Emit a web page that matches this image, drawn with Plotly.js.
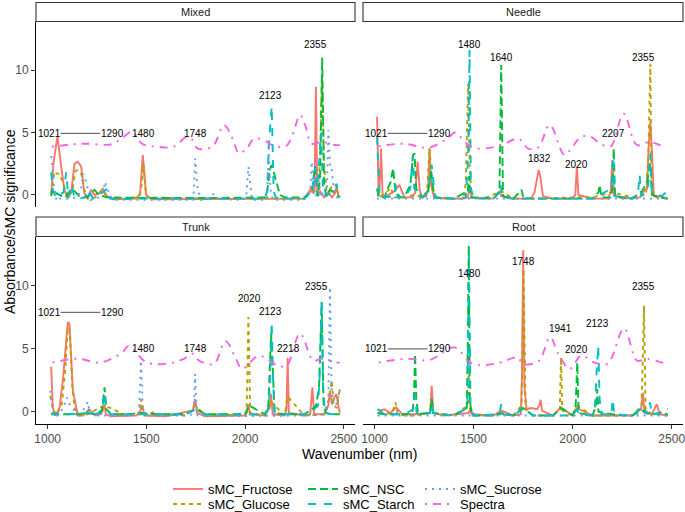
<!DOCTYPE html>
<html><head><meta charset="utf-8">
<script src="https://cdn.plot.ly/plotly-3.0.1.min.js"></script>
<style>html,body{margin:0;padding:0;background:#fff}#chart{width:685px;height:512px}</style>
</head><body><div id="chart"></div>
<script>
// ---------- categories ----------
const facetNames = ['Mixed','Needle','Trunk','Root'];
const seriesNames = ['sMC_Fructose','sMC_Glucose','sMC_NSC','sMC_Starch','sMC_Sucrose','Spectra'];
const xTickVals = [1000,1500,2000,2500];
const yTickVals = [0,5,10];

// ---------- Mixed ----------
const mix_fru_x = [1018,1030,1050,1060,1068,1085,1102,1120,1136,1153,1170,1186,1203,1220,1237,1260,1279,1300,1330,1450,1468,1482,1499,1527,1800,2000,2300,2325,2338,2346,2352,2359,2366,2380,2400,2422,2440,2455,2464,2472,2480];
const mix_fru_y = [0,2.6,4.7,3.6,2.3,0.4,-0.27,0.3,2.5,2.66,2.26,0.13,-0.2,0.4,0,0.1,0.5,-0.1,-0.35,-0.3,0.1,3.2,0,-0.35,-0.35,-0.35,-0.3,0.3,0.66,0.1,0.3,8.66,-0.1,0.3,-0.2,0.2,-0.2,0.1,0.7,0,-0.2];
const mix_glu_x = [1018,1034,1045,1060,1072,1085,1102,1125,1140,1153,1170,1186,1203,1240,1279,1300,1350,1465,1478,1485,1495,1505,1800,2100,2300,2350,2370,2380,2390,2400,2415,2439,2447,2460,2480];
const mix_glu_y = [0.1,1.86,1.7,1.7,1.2,0.5,-0.2,0.3,1.9,2.0,1.7,0.4,-0.3,-0.2,0.4,-0.2,-0.3,-0.2,1.0,2.5,0.5,-0.2,-0.3,-0.3,-0.3,0.5,0.2,3.0,9.6,2.5,-0.1,0.66,0.2,0.5,-0.2];
const mix_nsc_x = [1018,1026,1045,1060,1090,1116,1136,1160,1200,1237,1260,1300,1500,1800,2000,2100,2110,2118,2127,2135,2145,2160,2177,2200,2300,2340,2354,2365,2371,2380,2391,2400,2411,2430,2450,2480];
const mix_nsc_y = [-0.1,0.5,0.1,0,-0.2,0.4,0.3,-0.1,-0.2,0.4,0,-0.2,-0.25,-0.25,-0.25,-0.2,0.0,0.9,2.1,2.4,1.8,1.0,0.0,-0.2,-0.2,0.3,2.3,0.3,-0.1,1.5,11.0,1.0,-0.1,0.4,0.2,-0.2];
const mix_sta_x = [1018,1025,1040,1060,1080,1094,1105,1122,1135,1160,1190,1207,1230,1283,1300,1316,1350,1500,1800,2000,2100,2112,2120,2135,2145,2155,2200,2300,2340,2355,2362,2375,2385,2395,2410,2440,2464,2472,2480];
const mix_sta_y = [1.8,0.5,-0.2,0,0.2,1.8,-0.2,0.8,-0.2,-0.3,-0.2,0.4,-0.3,0.26,0.5,-0.3,-0.35,-0.3,-0.3,-0.3,-0.3,0.3,3.9,7.1,0.3,-0.2,-0.3,-0.3,0.3,2.2,-0.1,2.5,5.0,0.2,-0.1,0.3,0.9,-0.1,-0.2];
const mix_suc_x = [1016,1020,1030,1045,1060,1100,1150,1170,1181,1195,1217,1250,1280,1291,1300,1330,1500,1600,1700,1738,1747,1760,1777,1830,1840,1850,1950,2005,2017,2025,2035,2100,2112,2120,2128,2140,2200,2300,2330,2338,2348,2370,2385,2400,2415,2422,2432,2439,2450,2465,2480];
const mix_suc_y = [3.1,3.0,1.0,-0.5,-0.3,-0.3,-0.2,0.5,1.7,1.0,-0.4,-0.3,0.2,1.06,0.5,-0.4,-0.4,-0.4,-0.4,-0.4,2.93,0.5,-0.4,-0.2,0.1,-0.3,-0.4,-0.3,2.26,1.0,-0.4,-0.4,-0.3,4.0,0.5,-0.4,-0.4,-0.4,0.3,2.66,0.2,1.5,-0.2,0.5,0.3,5.2,2.0,2.0,0.3,-0.2,-0.3];
const mix_spe_x = [1021,1117,1201,1319,1369,1428,1478,1554,1638,1705,1733,1758,1834,1893,1926,1951,1968,2010,2044,2094,2136,2203,2237,2279,2304,2338,2388,2455,2480];
const mix_spe_y = [3.86,4.04,4.1,4.04,4.45,5.05,4.1,3.86,3.86,4.65,4.4,3.73,3.86,5.59,4.9,3.86,3.33,3.73,4.5,4.4,4.0,3.86,4.65,6.4,5.6,4.1,4.25,4.0,4.0];

// ---------- Needle ----------
const ndl_fru_x = [1012,1016,1020,1026,1032,1040,1050,1100,1125,1150,1190,1205,1217,1228,1240,1260,1270,1277,1285,1300,1350,1450,1470,1480,1490,1600,1630,1640,1700,1790,1807,1820,1828,1836,1850,1900,2000,2013,2021,2029,2100,2180,2192,2200,2208,2250,2340,2363,2375,2384,2392,2400,2410,2440,2480];
const ndl_fru_y = [6.26,3.0,-0.1,1.0,3.7,-0.1,-0.2,0.3,0.8,-0.2,-0.2,0.2,2.66,0.3,-0.2,-0.1,0.5,3.73,0.8,-0.2,-0.3,-0.3,-0.2,0.6,-0.2,-0.3,0.26,-0.1,-0.3,-0.3,0.2,1.3,2.0,1.5,-0.1,-0.3,-0.3,0,2.26,0,-0.3,-0.3,0.3,2.8,0,-0.3,-0.2,0.4,0.5,4.0,5.86,3.5,-0.1,-0.1,-0.3];
const ndl_glu_x = [1012,1030,1060,1080,1100,1150,1200,1240,1265,1277,1290,1310,1400,1450,1460,1466,1472,1480,1490,1550,1640,1700,1800,2000,2100,2200,2300,2370,2382,2392,2398,2410,2440,2480];
const ndl_glu_y = [0.5,-0.1,0.2,0.6,-0.2,-0.2,0,-0.2,0.3,3.73,0.5,-0.2,-0.3,-0.3,1.0,5.0,8.9,2.0,-0.2,-0.3,0.3,-0.3,-0.3,-0.2,-0.2,0.2,-0.2,0,3.0,10.5,1.0,-0.2,-0.2,-0.3];
const ndl_nsc_x = [1012,1020,1050,1065,1080,1093,1105,1130,1150,1180,1194,1201,1210,1240,1270,1285,1295,1310,1400,1470,1477,1485,1600,1630,1639,1648,1700,1742,1750,1800,1900,2000,2100,2130,2136,2145,2190,2200,2207,2214,2300,2350,2375,2392,2400,2440,2480];
const ndl_nsc_y = [0.5,-0.2,-0.2,0.5,1.0,2.13,0.3,-0.2,-0.2,0.8,3.2,3.33,0.5,-0.2,0.2,2.0,0.5,-0.2,-0.3,0.3,1.5,-0.2,-0.3,0.3,10.4,-0.1,-0.3,0.4,-0.2,-0.3,-0.3,-0.3,-0.3,0.2,0.8,-0.2,-0.2,0.5,3.73,-0.1,-0.3,0.3,1.0,2.5,0,-0.2,-0.3];
const ndl_sta_x = [1012,1018,1025,1040,1100,1108,1116,1150,1180,1192,1200,1240,1270,1288,1295,1305,1320,1400,1460,1472,1479,1486,1500,1600,1630,1635,1645,1700,1800,1900,2100,2195,2204,2212,2300,2330,2338,2346,2380,2392,2400,2450,2470,2480];
const ndl_sta_y = [4.66,2.0,-0.2,-0.2,-0.1,0.8,-0.2,-0.2,0.5,3.06,0.5,-0.2,0.3,2.4,1.5,-0.2,-0.3,-0.3,-0.2,3.0,11.6,0.5,-0.3,-0.3,0.2,0.8,-0.2,-0.3,-0.3,-0.3,-0.3,0.5,3.06,-0.1,-0.3,0.2,1.6,-0.1,0.5,3.3,0.2,-0.1,0.2,-0.3];
const ndl_suc_x = [1012,1100,1300,1500,1700,1900,2100,2300,2480];
const ndl_suc_y = [-0.3,-0.3,-0.35,-0.35,-0.35,-0.35,-0.35,-0.3,-0.3];
const ndl_spe_x = [1020,1145,1277,1377,1405,1493,1626,1726,1776,1826,1884,1958,1992,2041,2091,2141,2191,2257,2324,2390,2440,2470];
const ndl_spe_y = [3.9,4.1,3.8,4.65,5.0,3.8,3.9,4.5,3.7,3.8,5.6,3.2,3.7,4.65,4.65,4.1,3.86,6.5,4.0,4.25,4.0,3.95];

// ---------- Trunk ----------
const trk_fru_x = [1018,1026,1039,1060,1077,1095,1102,1110,1120,1128,1153,1180,1210,1240,1270,1282,1288,1295,1320,1450,1470,1480,1490,1600,1735,1747,1757,1800,2000,2010,2017,2024,2100,2125,2132,2140,2200,2210,2216,2222,2300,2330,2341,2350,2400,2422,2430,2440,2452,2463,2472,2480];
const trk_fru_y = [3.57,0.34,-0.3,0.3,2.46,6.0,7.1,7.0,4.0,1.67,-0.3,-0.3,0.2,-0.3,-0.2,0.2,0.6,-0.2,-0.35,-0.3,0.1,0.5,-0.3,-0.35,0.1,1.0,-0.1,-0.35,-0.3,0,0.6,-0.2,-0.3,0.3,1.4,-0.2,-0.3,0.2,4.26,-0.1,-0.3,-0.2,1.93,-0.2,-0.2,0.5,1.67,0.6,1.13,1.4,0.5,-0.1];
const trk_glu_x = [1013,1026,1045,1072,1090,1102,1112,1125,1136,1160,1200,1288,1400,1465,1473,1481,1500,1541,1560,1700,1748,1800,1900,2008,2017,2026,2100,2132,2200,2216,2300,2400,2425,2439,2450,2465,2481];
const trk_glu_y = [1.27,0.3,-0.3,0.6,3.5,6.7,6.5,2.0,0.3,-0.3,-0.2,0.5,-0.3,-0.2,1.0,-0.1,-0.3,0,-0.2,-0.3,0.5,-0.3,-0.3,-0.1,7.5,-0.1,-0.3,0.8,-0.3,1.2,-0.3,-0.2,1.0,2.46,0.5,0.3,1.93];
const trk_nsc_x = [1018,1040,1080,1150,1200,1240,1275,1288,1298,1320,1400,1480,1550,1700,1750,1800,1900,2000,2020,2100,2118,2125,2132,2140,2150,2200,2300,2340,2360,2375,2388,2398,2410,2440,2480];
const trk_nsc_y = [-0.2,-0.2,-0.2,-0.2,-0.1,-0.2,0.1,1.93,0.2,-0.2,-0.2,-0.1,-0.2,-0.2,0.2,-0.2,-0.2,-0.2,0.5,-0.2,0.5,4.0,6.2,3.5,-0.1,-0.2,-0.2,0.2,0.5,2.0,8.67,0.5,-0.1,-0.2,-0.2];
const trk_sta_x = [1018,1030,1100,1200,1212,1225,1270,1280,1288,1296,1320,1500,1700,1750,1800,2000,2100,2120,2128,2135,2142,2150,2200,2300,2350,2370,2380,2388,2395,2405,2440,2480];
const trk_sta_y = [-0.1,-0.2,-0.2,-0.1,0.2,-0.2,-0.1,0.5,1.5,0.3,-0.2,-0.2,-0.2,0.2,-0.2,-0.2,-0.2,0.3,3.0,7.1,2.5,-0.1,-0.2,-0.2,0.2,0.5,3.5,8.8,2.0,-0.1,-0.2,-0.2];
const trk_suc_x = [1013,1020,1030,1050,1080,1097,1110,1150,1190,1203,1210,1240,1300,1400,1460,1465,1473,1481,1490,1600,1700,1740,1747,1752,1760,1900,2000,2100,2200,2300,2400,2415,2422,2430,2438,2445,2460,2470,2484];
const trk_suc_y = [1.67,1.0,-0.3,-0.3,0.3,1.13,0.6,-0.2,0.3,0.8,0.2,-0.3,-0.3,-0.3,-0.2,1.0,4.05,0.5,-0.3,-0.3,-0.3,-0.2,3.0,1.0,-0.3,-0.35,-0.35,-0.35,-0.35,-0.3,-0.2,0.2,1.0,9.87,2.0,0.5,0.5,1.0,2.06];
const trk_spe_x = [1025,1151,1268,1378,1410,1503,1621,1690,1738,1767,1842,1901,1951,1985,2069,2128,2169,2211,2279,2346,2388,2463,2480];
const trk_spe_y = [3.9,4.2,3.9,4.7,5.2,3.9,3.85,4.2,4.6,4.05,3.8,5.6,4.3,3.4,4.45,4.0,3.65,3.65,6.2,4.05,4.2,3.9,3.9];

// ---------- Root ----------
const root_fru_x = [1015,1030,1049,1080,1108,1140,1200,1280,1288,1296,1350,1475,1482,1490,1600,1640,1700,1738,1744,1750,1756,1767,1790,1820,1832,1838,1845,1900,1940,2000,2020,2100,2200,2300,2345,2355,2362,2400,2424,2440,2480];
const root_fru_y = [0.2,0.1,0.2,-0.1,0.34,-0.2,-0.2,-0.1,2.06,-0.1,-0.3,-0.1,0.3,-0.2,-0.3,0.1,-0.3,-0.2,3.0,12.8,2.0,0.2,0.3,0.2,0.5,0.95,0.1,-0.3,0.34,-0.3,0.3,-0.3,-0.3,-0.3,0.2,1.5,-0.1,-0.2,0.6,-0.2,-0.3];
const root_glu_x = [1015,1060,1095,1105,1115,1150,1200,1280,1288,1296,1400,1470,1475,1480,1500,1640,1700,1742,1752,1762,1800,1900,1935,1941,1947,2000,2020,2100,2200,2300,2348,2360,2368,2400,2440,2480];
const root_glu_y = [-0.1,-0.2,0.2,0.74,-0.1,-0.3,-0.3,-0.1,1.0,-0.1,-0.3,0.5,3.0,0.5,-0.3,-0.2,-0.3,0.5,11.3,0.2,-0.3,-0.3,0.2,4.3,0.1,-0.3,0.5,-0.3,-0.3,-0.3,0.5,8.4,0.2,-0.2,-0.2,-0.3];
const root_nsc_x = [1015,1050,1100,1150,1190,1198,1204,1210,1220,1280,1288,1296,1400,1465,1470,1475,1480,1490,1600,1640,1700,1748,1800,1900,1941,2000,2015,2023,2030,2100,2118,2124,2130,2200,2300,2350,2400,2440,2480];
const root_nsc_y = [-0.1,-0.2,-0.2,-0.2,-0.1,1.0,4.58,1.0,-0.2,-0.1,1.0,-0.1,-0.3,0.3,5.0,13.2,1.0,-0.3,-0.3,-0.1,-0.3,0.3,-0.3,-0.3,0.3,-0.3,0.5,3.9,-0.1,-0.3,0.5,1.8,0,-0.2,-0.3,0.1,-0.2,-0.1,-0.2];
const root_sta_x = [1015,1050,1100,1150,1195,1204,1212,1280,1288,1296,1400,1468,1476,1484,1500,1630,1639,1648,1700,1745,1755,1800,1900,2000,2022,2030,2100,2112,2120,2129,2136,2145,2195,2202,2210,2300,2340,2350,2380,2390,2400,2440,2474,2480];
const root_sta_y = [0.2,-0.2,-0.2,-0.2,0.2,1.3,-0.1,-0.1,0.6,-0.1,-0.3,0.3,12.4,0.5,-0.3,-0.2,0.6,-0.2,-0.3,0.2,0.3,-0.3,-0.3,-0.3,0.2,-0.2,-0.3,0.3,3.0,5.24,1.0,-0.2,-0.2,1.0,-0.2,-0.3,0.2,0.5,-0.2,0.74,-0.2,-0.1,0.34,0.2];
const root_suc_x = [1015,1100,1300,1500,1700,1900,2100,2300,2480];
const root_suc_y = [-0.3,-0.3,-0.35,-0.35,-0.35,-0.35,-0.35,-0.3,-0.3];
const root_spe_x = [1020,1161,1277,1402,1493,1609,1726,1744,1827,1886,1927,1985,2043,2110,2176,2259,2325,2375,2450,2470];
const root_spe_y = [3.9,4.2,4.1,5.1,3.8,3.8,4.3,3.8,4.0,5.9,4.6,3.4,4.45,3.9,3.8,6.6,4.05,4.2,3.9,3.85];

// ---------- peak labels ----------
const mix_lab_text = ['1021','1290','1480','1748','2123','2355'];
const mix_lab_x = [1009,1328,1485,1750,2127,2359];
const mix_lab_y = [4.93,4.93,4.93,4.93,7.94,12.05];
const ndl_lab_text = ['1021','1290','1480','1640','1832','2020','2207','2355'];
const ndl_lab_x = [1009,1325,1480,1640,1834,2020,2208,2357];
const ndl_lab_y = [4.93,4.93,12.05,11.0,2.93,2.45,4.93,11.0];
const trk_lab_text = ['1021','1290','1480','1748','2020','2123','2218','2355'];
const trk_lab_x = [1009,1328,1485,1750,2022,2127,2219,2363];
const trk_lab_y = [7.88,7.88,4.98,4.98,8.94,7.94,4.98,9.92];
const root_lab_text = ['1021','1290','1480','1748','1941','2020','2123','2355'];
const root_lab_x = [1009,1325,1480,1750,1940,2020,2124,2357];
const root_lab_y = [4.98,4.98,10.93,11.93,6.56,4.92,6.96,9.92];
const seg_x = [1066,1266];
const seg_y = [4.93,4.93,7.88,4.98];

// ---------- build ----------
const W = 685, H = 512;
const fx = p => p / W, fy = p => 1 - p / H;
const FONT = 'Liberation Sans, Arial, Helvetica, sans-serif';
const colors = ['#F8766D','#B79F00','#00BA38','#00BFC4','#619CFF','#F564E3'];
const dashes = ['solid','4px,4px','8px,4px','8px,8px','2px,5px','2px,6px,8px,6px'];

const data = {
  Mixed: [[mix_fru_x,mix_fru_y],[mix_glu_x,mix_glu_y],[mix_nsc_x,mix_nsc_y],[mix_sta_x,mix_sta_y],[mix_suc_x,mix_suc_y],[mix_spe_x,mix_spe_y]],
  Needle: [[ndl_fru_x,ndl_fru_y],[ndl_glu_x,ndl_glu_y],[ndl_nsc_x,ndl_nsc_y],[ndl_sta_x,ndl_sta_y],[ndl_suc_x,ndl_suc_y],[ndl_spe_x,ndl_spe_y]],
  Trunk: [[trk_fru_x,trk_fru_y],[trk_glu_x,trk_glu_y],[trk_nsc_x,trk_nsc_y],[trk_sta_x,trk_sta_y],[trk_suc_x,trk_suc_y],[trk_spe_x,trk_spe_y]],
  Root: [[root_fru_x,root_fru_y],[root_glu_x,root_glu_y],[root_nsc_x,root_nsc_y],[root_sta_x,root_sta_y],[root_suc_x,root_suc_y],[root_spe_x,root_spe_y]]
};
const labels = {
  Mixed: [mix_lab_text, mix_lab_x, mix_lab_y],
  Needle: [ndl_lab_text, ndl_lab_x, ndl_lab_y],
  Trunk: [trk_lab_text, trk_lab_x, trk_lab_y],
  Root: [root_lab_text, root_lab_x, root_lab_y]
};

// panel geometry (pixels)
const colPx = [[36,355],[363,683]];
const rowPx = [[22,207],[237,424]];
const stripPx = [[2.5,21.5],[217,236.5]];
const legendIds = ['legend','legend2','legend3','legend4','legend5','legend6'];
// legend positions: ggplot fills columns first
const legCol = [0,0,1,1,2,2], legRow = [0,1,0,1,0,1];
const legColPx = [168,303,420], legRowPx = [489,504];

const traces = [];
const annotations = [];
const shapes = [];
const layout = {
  width: W, height: H,
  margin: {l:0, r:0, t:0, b:0, autoexpand:false},
  paper_bgcolor: '#fff', plot_bgcolor: '#fff',
  font: {family: FONT, color: '#000'},
  hovermode: false,
  showlegend: true
};

facetNames.forEach((fname, fi) => {
  const c = fi % 2, r = Math.floor(fi / 2);
  const sfx = fi === 0 ? '' : String(fi + 1);
  const xa = 'x' + sfx, ya = 'y' + sfx;
  const isLeft = c === 0, isBottom = r === 1;
  layout['xaxis' + sfx] = {
    domain: [fx(colPx[c][0]), fx(colPx[c][1])], anchor: ya,
    range: [941, 2557], showgrid: false, zeroline: false, fixedrange: true,
    showline: isBottom, linecolor: '#000', linewidth: 1,
    ticks: isBottom ? 'outside' : '', ticklen: 4, tickwidth: 1, tickcolor: '#333',
    showticklabels: isBottom, tickvals: xTickVals, ticktext: xTickVals.map(String),
    ticklabeloverflow: 'allow',
    tickfont: {size: 12, color: '#4d4d4d', family: FONT}
  };
  layout['yaxis' + sfx] = {
    domain: [fy(rowPx[r][1]), fy(rowPx[r][0])], anchor: xa,
    range: [-0.97, 13.85], showgrid: false, zeroline: false, fixedrange: true,
    showline: isLeft, linecolor: '#000', linewidth: 1,
    ticks: isLeft ? 'outside' : '', ticklen: 4, tickwidth: 1, tickcolor: '#333',
    showticklabels: isLeft, tickvals: yTickVals, ticktext: yTickVals.map(String),
    ticklabeloverflow: 'allow',
    tickfont: {size: 12, color: '#4d4d4d', family: FONT}
  };
  // series lines
  seriesNames.forEach((sname, si) => {
    const [xs, ys] = data[fname][si];
    traces.push({
      type: 'scatter', mode: 'lines', name: sname, x: xs, y: ys,
      xaxis: xa, yaxis: ya,
      line: {color: colors[si], width: 1.9, dash: dashes[si], shape: si === 5 ? 'spline' : 'linear', smoothing: 1},
      showlegend: fi === 0, legend: legendIds[si], hoverinfo: 'skip'
    });
  });
  // strip
  shapes.push({type:'rect', xref:'paper', yref:'paper',
    x0: fx(colPx[c][0]), x1: fx(colPx[c][1]), y0: fy(stripPx[r][1]), y1: fy(stripPx[r][0]),
    fillcolor:'#fff', line:{color:'#333', width:1.1}, layer:'above'});
  annotations.push({xref:'paper', yref:'paper', x: fx((colPx[c][0]+colPx[c][1])/2), y: fy((stripPx[r][0]+stripPx[r][1])/2),
    text: fname, showarrow:false, xanchor:'center', yanchor:'middle', font:{size:11, color:'#1a1a1a', family: FONT}});
  // peak labels
  const [lt, lx, ly] = labels[fname];
  lt.forEach((t, k) => annotations.push({xref: xa, yref: ya, x: lx[k], y: ly[k], text: t, showarrow:false,
    xanchor:'center', yanchor:'middle', font:{size:10, color:'#000', family: FONT}}));
  shapes.push({type:'line', xref: xa, yref: ya, x0: seg_x[0], x1: seg_x[1], y0: seg_y[fi], y1: seg_y[fi],
    line:{color:'#222', width:0.8}});
});

// axis titles
annotations.push({xref:'paper', yref:'paper', x: fx(359.5), y: fy(454), text:'Wavenumber (nm)', showarrow:false,
  xanchor:'center', yanchor:'middle', font:{size:14, color:'#000', family: FONT}});
annotations.push({xref:'paper', yref:'paper', x: fx(10), y: fy(222), text:'Absorbance/sMC significance', showarrow:false,
  textangle:-90, xanchor:'center', yanchor:'middle', font:{size:14, color:'#000', family: FONT}});

// legends
legendIds.forEach((id, si) => {
  layout[id] = {
    x: fx(legColPx[legCol[si]]), y: fy(legRowPx[legRow[si]]), xanchor:'left', yanchor:'middle',
    orientation:'h', bgcolor:'rgba(0,0,0,0)', borderwidth:0,
    font:{size:13, color:'#000', family: FONT}, itemwidth:30, tracegroupgap:0
  };
});

layout.annotations = annotations;
layout.shapes = shapes;

Plotly.newPlot('chart', traces, layout, {displayModeBar:false, staticPlot:true});
</script>
</body></html>
